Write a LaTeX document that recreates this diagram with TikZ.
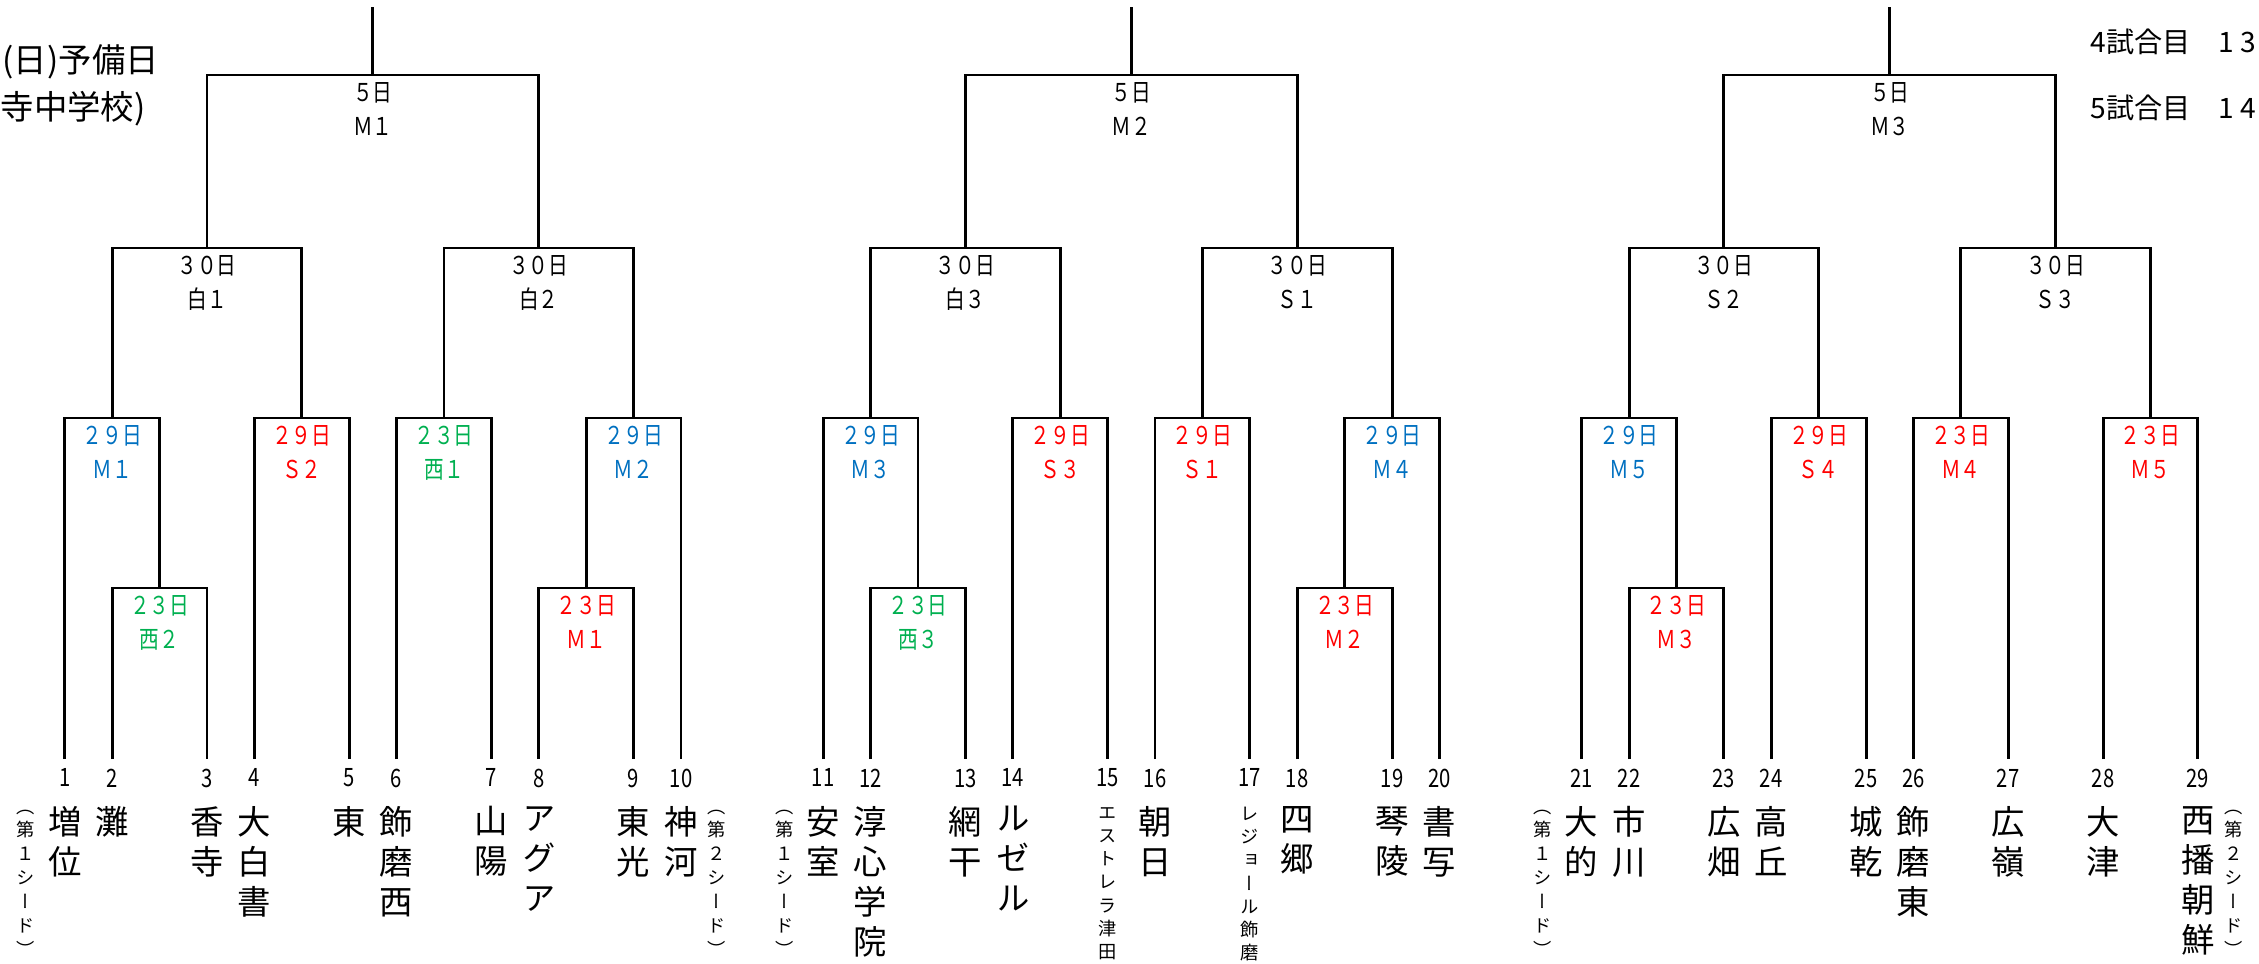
\documentclass[tikz,border=0pt]{standalone}
\usepackage{fontspec}
\newfontfamily\jp{Noto Sans CJK JP}
\newfontfamily\jpn[FakeStretch=0.8]{Noto Sans CJK JP}
\newfontfamily\jpv[RawFeature=+vert]{Noto Sans CJK JP}
\usetikzlibrary{positioning}

\definecolor{mblue}{RGB}{0,112,192}
\definecolor{mred}{RGB}{255,0,0}
\definecolor{mgreen}{RGB}{0,176,80}

\tikzset{
  br/.style={line width=0.85pt},
  lbl/.style={font={\jpn\fontsize{7}{9.6}\selectfont}, align=center, inner sep=0pt},
  num/.style={font={\jpn\fontsize{7.2}{8}\selectfont}, inner sep=0pt},
  team/.style={font={\jpv\fontsize{9.5}{11.4}\selectfont}, align=center, inner sep=0pt},
  smallteam/.style={font={\jpv\fontsize{5.2}{6.6}\selectfont}, align=center, inner sep=0pt},
  seed/.style={font={\jpv\fontsize{5.2}{6.8}\selectfont}, align=center, inner sep=0pt},
  corner/.style={font={\jp\fontsize{9.5}{10}\selectfont}, inner sep=0pt, anchor=west},
  gamenote/.style={font={\jp\fontsize{8}{9}\selectfont}, inner sep=0pt, anchor=west},
}

\def\xo{0.648}
\def\u{0.474}
\def\yA{-0.75}
\def\yB{-2.48}
\def\yC{-4.18}
\def\yD{-5.88}
\def\yleaf{-7.59}

\begin{document}
\begin{tikzpicture}
\useasboundingbox (0,0) rectangle (22.59,-9.64);

% leaves
\foreach \n/\k in {1/0,2/1,3/3,4/4,5/6,6/7,7/9,8/10,9/12,10/13,
                   11/16,12/17,13/19,14/20,15/22,16/23,17/25,18/26,19/28,20/29,
                   21/32,22/33,23/35,24/36,25/38,26/39,27/41,28/43,29/45}
  \coordinate (t\n) at ({\xo+\k*\u},\yleaf);

\foreach \n in {1,...,29}
  \node[num, below=0.09 of t\n] (n\n) {\n};

% block 1
\coordinate (a1) at ({\xo+2*\u},\yD);
\coordinate (a2) at ({\xo+1*\u},\yC);
\coordinate (a3) at ({\xo+5*\u},\yC);
\coordinate (a4) at ({\xo+8*\u},\yC);
\coordinate (a5) at ({\xo+11*\u},\yD);
\coordinate (a6) at ({\xo+12*\u},\yC);
\coordinate (a7) at ({\xo+3*\u},\yB);
\coordinate (a8) at ({\xo+10*\u},\yB);
\coordinate (a9) at ({\xo+6.5*\u},\yA);
\coordinate (a0) at ({\xo+6.5*\u},-0.07);

\draw[br] (t2) |- (a1) -| (t3);
\draw[br] (t1) |- (a2) -| (a1);
\draw[br] (t4) |- (a3) -| (t5);
\draw[br] (t6) |- (a4) -| (t7);
\draw[br] (t8) |- (a5) -| (t9);
\draw[br] (a5) |- (a6) -| (t10);
\draw[br] (a2) |- (a7) -| (a3);
\draw[br] (a4) |- (a8) -| (a6);
\draw[br] (a7) |- (a9) -| (a8);
\draw[br] (a9) -- (a0);

\node[lbl, below=0.07 of a1, text=mgreen] (a1-l) {２３日\\西２};
\node[lbl, below=0.07 of a2, text=mblue] (a2-l) {２９日\\Ｍ１};
\node[lbl, below=0.07 of a3, text=mred] (a3-l) {２９日\\Ｓ２};
\node[lbl, below=0.07 of a4, text=mgreen] (a4-l) {２３日\\西１};
\node[lbl, below=0.07 of a5, text=mred] (a5-l) {２３日\\Ｍ１};
\node[lbl, below=0.07 of a6, text=mblue] (a6-l) {２９日\\Ｍ２};
\node[lbl, below=0.07 of a7] (a7-l) {３０日\\白１};
\node[lbl, below=0.07 of a8] (a8-l) {３０日\\白２};
\node[lbl, below=0.07 of a9] (a9-l) {５日\\Ｍ１};

% block 2
\coordinate (b1) at ({\xo+18*\u},\yD);
\coordinate (b2) at ({\xo+17*\u},\yC);
\coordinate (b3) at ({\xo+21*\u},\yC);
\coordinate (b4) at ({\xo+24*\u},\yC);
\coordinate (b5) at ({\xo+27*\u},\yD);
\coordinate (b6) at ({\xo+28*\u},\yC);
\coordinate (b7) at ({\xo+19*\u},\yB);
\coordinate (b8) at ({\xo+26*\u},\yB);
\coordinate (b9) at ({\xo+22.5*\u},\yA);
\coordinate (b0) at ({\xo+22.5*\u},-0.07);

\draw[br] (t12) |- (b1) -| (t13);
\draw[br] (t11) |- (b2) -| (b1);
\draw[br] (t14) |- (b3) -| (t15);
\draw[br] (t16) |- (b4) -| (t17);
\draw[br] (t18) |- (b5) -| (t19);
\draw[br] (b5) |- (b6) -| (t20);
\draw[br] (b2) |- (b7) -| (b3);
\draw[br] (b4) |- (b8) -| (b6);
\draw[br] (b7) |- (b9) -| (b8);
\draw[br] (b9) -- (b0);

\node[lbl, below=0.07 of b1, text=mgreen] (b1-l) {２３日\\西３};
\node[lbl, below=0.07 of b2, text=mblue] (b2-l) {２９日\\Ｍ３};
\node[lbl, below=0.07 of b3, text=mred] (b3-l) {２９日\\Ｓ３};
\node[lbl, below=0.07 of b4, text=mred] (b4-l) {２９日\\Ｓ１};
\node[lbl, below=0.07 of b5, text=mred] (b5-l) {２３日\\Ｍ２};
\node[lbl, below=0.07 of b6, text=mblue] (b6-l) {２９日\\Ｍ４};
\node[lbl, below=0.07 of b7] (b7-l) {３０日\\白３};
\node[lbl, below=0.07 of b8] (b8-l) {３０日\\Ｓ１};
\node[lbl, below=0.07 of b9] (b9-l) {５日\\Ｍ２};

% block 3
\coordinate (c1) at ({\xo+34*\u},\yD);
\coordinate (c2) at ({\xo+33*\u},\yC);
\coordinate (c3) at ({\xo+37*\u},\yC);
\coordinate (c4) at ({\xo+40*\u},\yC);
\coordinate (c5) at ({\xo+44*\u},\yC);
\coordinate (c6) at ({\xo+35*\u},\yB);
\coordinate (c7) at ({\xo+42*\u},\yB);
\coordinate (c8) at ({\xo+38.5*\u},\yA);
\coordinate (c0) at ({\xo+38.5*\u},-0.07);

\draw[br] (t22) |- (c1) -| (t23);
\draw[br] (t21) |- (c2) -| (c1);
\draw[br] (t24) |- (c3) -| (t25);
\draw[br] (t26) |- (c4) -| (t27);
\draw[br] (t28) |- (c5) -| (t29);
\draw[br] (c2) |- (c6) -| (c3);
\draw[br] (c4) |- (c7) -| (c5);
\draw[br] (c6) |- (c8) -| (c7);
\draw[br] (c8) -- (c0);

\node[lbl, below=0.07 of c1, text=mred] (c1-l) {２３日\\Ｍ３};
\node[lbl, below=0.07 of c2, text=mblue] (c2-l) {２９日\\Ｍ５};
\node[lbl, below=0.07 of c3, text=mred] (c3-l) {２９日\\Ｓ４};
\node[lbl, below=0.07 of c4, text=mred] (c4-l) {２３日\\Ｍ４};
\node[lbl, below=0.07 of c5, text=mred] (c5-l) {２３日\\Ｍ５};
\node[lbl, below=0.07 of c6] (c6-l) {３０日\\Ｓ２};
\node[lbl, below=0.07 of c7] (c7-l) {３０日\\Ｓ３};
\node[lbl, below=0.07 of c8] (c8-l) {５日\\Ｍ３};

% team names
\foreach \n/\s in {1/{増\\位},2/{灘},3/{香\\寺},4/{大\\白\\書},5/{東},6/{飾\\磨\\西},
                   7/{山\\陽},8/{ア\\グ\\ア},9/{東\\光},10/{神\\河},
                   11/{安\\室},12/{淳\\心\\学\\院},13/{網\\干},14/{ル\\ゼ\\ル},16/{朝\\日},
                   18/{四\\郷},19/{琴\\陵},20/{書\\写},
                   21/{大\\的},22/{市\\川},23/{広\\畑},24/{高\\丘},25/{城\\乾},
                   26/{飾\\磨\\東},27/{広\\嶺},28/{大\\津},29/{西\\播\\朝\\鮮}}
  \node[team, below=0.18 of n\n] (s\n) {\s};
\node[smallteam, below=0.19 of n15] (s15) {エ\\ス\\ト\\レ\\ラ\\津\\田};
\node[smallteam, below=0.19 of n17] (s17) {レ\\ジ\\ョ\\ー\\ル\\飾\\磨};

% seeds
\node[seed, below=0.50 of t1, xshift=-0.39cm] (seed1) {（\\第\\１\\シ\\ー\\ド\\）};
\node[seed, below=0.50 of t11, xshift=-0.39cm] (seed11) {（\\第\\１\\シ\\ー\\ド\\）};
\node[seed, below=0.50 of t21, xshift=-0.39cm] (seed21) {（\\第\\１\\シ\\ー\\ド\\）};
\node[seed, below=0.50 of t10, xshift=0.36cm] (seed10) {（\\第\\２\\シ\\ー\\ド\\）};
\node[seed, below=0.50 of t29, xshift=0.36cm] (seed29) {（\\第\\２\\シ\\ー\\ド\\）};

% corner notes
\node[corner] (yobi) at (0.02,-0.62) {(日)予備日};
\node[corner] (venue) at (0.0,-1.09) {寺中学校)};
\node[gamenote] (game4) at (20.90,-0.42) {4試合目　1 3};
\node[gamenote] (game5) at (20.90,-1.08) {5試合目　1 4};
\end{tikzpicture}
\end{document}
